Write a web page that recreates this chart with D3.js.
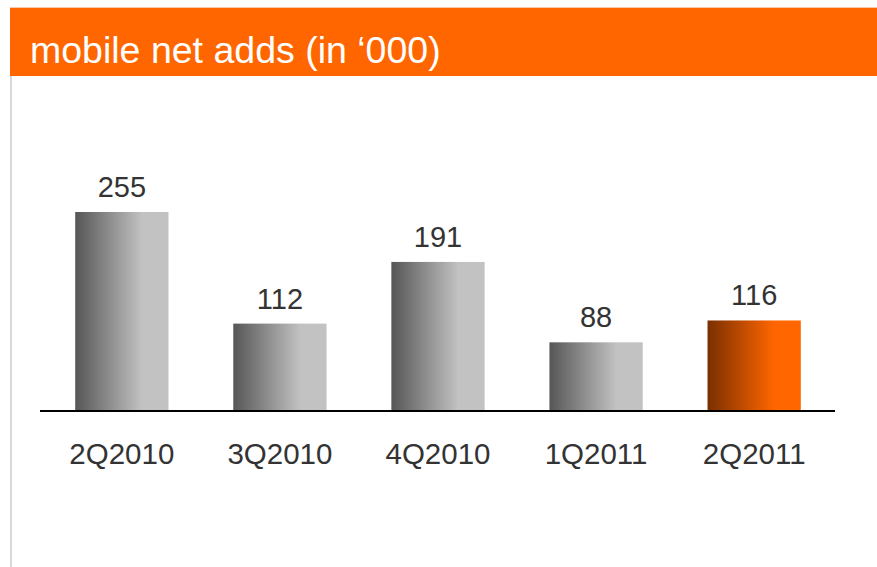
<!DOCTYPE html>
<html><head><meta charset="utf-8">
<script src="https://cdn.jsdelivr.net/npm/d3@7"></script>
<style>html,body{margin:0;padding:0;background:#fff;}svg{display:block;}</style>
</head><body>
<script>
const categories = ["2Q2010","3Q2010","4Q2010","1Q2011","2Q2011"];
const values = [255, 112, 191, 88, 116];
const highlight = [false, false, false, false, true];
const title = "mobile net adds (in \u2018000)";

const W = 877, H = 567;
const svg = d3.select("body").append("svg").attr("width", W).attr("height", H);
const font = "'Liberation Sans', Arial, Helvetica, sans-serif";

const defs = svg.append("defs");
function grad(id, c0, c1) {
  const g = defs.append("linearGradient").attr("id", id).attr("x1","0%").attr("x2","100%").attr("y1","0%").attr("y2","0%");
  g.append("stop").attr("offset","0%").attr("stop-color", c0);
  g.append("stop").attr("offset","72%").attr("stop-color", c1);
  g.append("stop").attr("offset","100%").attr("stop-color", c1);
}
grad("gGray", "#565656", "#c2c2c2");
grad("gOrange", "#7a2f00", "#ff6600");

// header
svg.append("rect").attr("x",10).attr("y",7).attr("width",W-10).attr("height",1).attr("fill","#f7c9a6");
svg.append("rect").attr("x",10).attr("y",8).attr("width",W-10).attr("height",68).attr("fill","#ff6600");
svg.append("text").attr("x",30).attr("y",63).attr("fill","#fff")
  .attr("font-family",font).attr("font-size",37.5).text(title);
// left border
svg.append("rect").attr("x",10).attr("y",76).attr("width",2).attr("height",H-76).attr("fill","#d9d9d9");

const x = d3.scaleBand().domain(categories).range([42, 834]).paddingInner(0.41).paddingOuter(0.21);
const y = d3.scaleLinear().domain([0, 255]).range([411, 212]);

const g = svg.append("g");
g.selectAll("rect.bar").data(categories).join("rect").attr("class","bar")
  .attr("x", d => x(d)).attr("width", x.bandwidth())
  .attr("y", (d,i) => y(values[i])).attr("height", (d,i) => y(0) - y(values[i]))
  .attr("fill", (d,i) => highlight[i] ? "url(#gOrange)" : "url(#gGray)");

g.selectAll("text.val").data(categories).join("text").attr("class","val")
  .attr("x", d => x(d) + x.bandwidth()/2).attr("y", (d,i) => y(values[i]) - 15)
  .attr("text-anchor","middle").attr("font-family",font).attr("font-size",29).attr("fill","#333")
  .text((d,i) => values[i]);

// baseline axis
const axis = d3.axisBottom(x).tickSize(0).tickPadding(32);
const ax = svg.append("g").attr("transform", `translate(0,${y(0)})`).call(axis);
ax.select(".domain").attr("stroke","#000").attr("stroke-width",2).attr("d","M40,0H835");
ax.selectAll("text").attr("font-family",font).attr("font-size",29.5).attr("fill","#333").attr("dy","0.71em");
</script>
</body></html>
